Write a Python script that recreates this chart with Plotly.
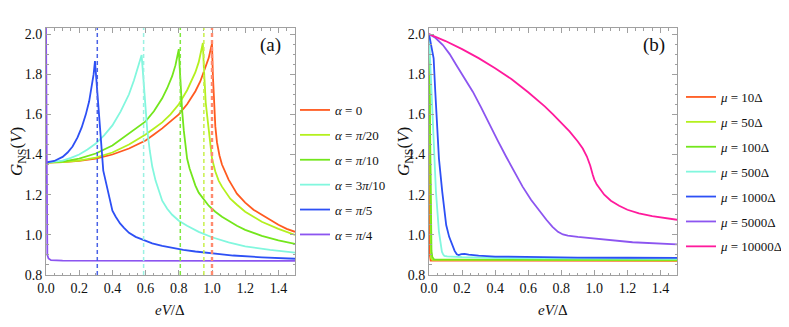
"""Two-panel conductance plot G_NS(V) vs eV/Delta."""

import plotly.graph_objects as go
from plotly.subplots import make_subplots

# ---- panel (a): different alpha ----
a_labels = ["<i>α</i> = 0", "<i>α</i> = <i>π</i>/20", "<i>α</i> = <i>π</i>/10",
            "<i>α</i> = 3<i>π</i>/10", "<i>α</i> = <i>π</i>/5", "<i>α</i> = <i>π</i>/4"]

a_x_0 = [0, 0.1, 0.2, 0.3, 0.4, 0.5, 0.55, 0.6, 0.65, 0.7, 0.75, 0.8, 0.85, 0.9, 0.93, 0.96, 0.98,
         0.995, 1.0, 1.005, 1.012, 1.02, 1.03, 1.045, 1.06, 1.08, 1.1, 1.125, 1.15, 1.2, 1.25, 1.3,
         1.35, 1.4, 1.45, 1.5]
a_y_0 = [1.36, 1.362, 1.368, 1.38, 1.40, 1.43, 1.45, 1.47, 1.50, 1.53, 1.565, 1.60, 1.65, 1.715, 1.765,
         1.83, 1.88, 1.935, 1.95, 1.80, 1.65, 1.54, 1.46, 1.395, 1.35, 1.31, 1.275, 1.24, 1.205, 1.16,
         1.125, 1.10, 1.075, 1.05, 1.03, 1.015]

a_x_1 = [0, 0.1, 0.2, 0.3, 0.4, 0.5, 0.55, 0.6, 0.65, 0.7, 0.75, 0.8, 0.85, 0.88, 0.9, 0.92, 0.935,
         0.945, 0.95, 0.955, 0.962, 0.97, 0.98, 0.99, 1.0, 1.02, 1.04, 1.06, 1.08, 1.11, 1.15, 1.2,
         1.25, 1.3, 1.4, 1.5]
a_y_1 = [1.36, 1.362, 1.37, 1.385, 1.41, 1.45, 1.475, 1.50, 1.53, 1.56, 1.60, 1.65, 1.72, 1.77, 1.81,
         1.86, 1.91, 1.955, 1.85, 1.75, 1.66, 1.60, 1.52, 1.44, 1.38, 1.315, 1.27, 1.24, 1.215, 1.18,
         1.15, 1.115, 1.09, 1.065, 1.03, 1.0]

a_x_2 = [0, 0.1, 0.2, 0.3, 0.4, 0.5, 0.55, 0.6, 0.65, 0.7, 0.73, 0.76, 0.78, 0.795, 0.80, 0.805,
         0.812, 0.82, 0.83, 0.84, 0.85, 0.865, 0.88, 0.9, 0.92, 0.95, 0.98, 1.02, 1.06, 1.1, 1.15,
         1.2, 1.3, 1.4, 1.5]
a_y_2 = [1.36, 1.365, 1.38, 1.405, 1.445, 1.505, 1.535, 1.565, 1.615, 1.68, 1.73, 1.79, 1.845, 1.90,
         1.925, 1.84, 1.73, 1.62, 1.52, 1.44, 1.38, 1.33, 1.29, 1.245, 1.21, 1.175, 1.145, 1.115, 1.09,
         1.07, 1.045, 1.025, 0.995, 0.972, 0.955]

a_x_3 = [0, 0.1, 0.15, 0.2, 0.25, 0.3, 0.35, 0.4, 0.45, 0.5, 0.53, 0.555, 0.57, 0.576, 0.582, 0.59,
         0.6, 0.61, 0.625, 0.64, 0.66, 0.68, 0.7, 0.73, 0.76, 0.8, 0.85, 0.92, 1.0, 1.1, 1.2, 1.35, 1.5]
a_y_3 = [1.36, 1.37, 1.383, 1.40, 1.425, 1.455, 1.495, 1.545, 1.615, 1.70, 1.77, 1.845, 1.88, 1.895,
         1.83, 1.73, 1.62, 1.52, 1.42, 1.34, 1.27, 1.215, 1.17, 1.13, 1.10, 1.07, 1.045, 1.015, 0.988,
         0.963, 0.943, 0.925, 0.911]

a_x_4 = [0, 0.05, 0.1, 0.13, 0.16, 0.19, 0.215, 0.24, 0.26, 0.275, 0.287, 0.295, 0.31, 0.325, 0.345,
         0.356, 0.366, 0.376, 0.386, 0.40, 0.42, 0.446, 0.47, 0.5, 0.54, 0.586, 0.64, 0.7, 0.76,
         0.827, 0.9, 1.0, 1.128, 1.3, 1.5]
a_y_4 = [1.36, 1.368, 1.388, 1.41, 1.44, 1.485, 1.535, 1.60, 1.665, 1.73, 1.80, 1.865, 1.70, 1.52, 1.32,
         1.28, 1.24, 1.20, 1.158, 1.12, 1.09, 1.057, 1.035, 1.01, 0.99, 0.974, 0.958, 0.945, 0.934,
         0.925, 0.917, 0.907, 0.897, 0.888, 0.881]

a_x_5 = [0, 0.002, 0.004, 0.008, 0.015, 0.03, 0.1, 1.5]
a_y_5 = [2.05, 1.6, 1.1, 0.90, 0.882, 0.874, 0.872, 0.870]

a_gap_x = [1.0, 0.951, 0.809, 0.588, 0.309]

# ---- panel (b): different mu ----
b_labels = ["<i>μ</i> = 10Δ", "<i>μ</i> = 50Δ", "<i>μ</i> = 100Δ", "<i>μ</i> = 500Δ",
            "<i>μ</i> = 1000Δ", "<i>μ</i> = 5000Δ", "<i>μ</i> = 10000Δ"]

b_x_0 = [0, 0.002, 0.005, 0.01, 1.5]
b_y_0 = [2.0, 1.4, 0.9, 0.872, 0.870]

b_x_1 = [0, 0.004, 0.008, 0.012, 0.02, 1.5]
b_y_1 = [2.0, 1.5, 1.0, 0.885, 0.876, 0.873]

b_x_2 = [0, 0.005, 0.01, 0.015, 0.02, 0.03, 1.5]
b_y_2 = [2.0, 1.6, 1.15, 0.92, 0.89, 0.878, 0.875]

b_x_3 = [0, 0.01, 0.024, 0.042, 0.06, 0.07, 0.078, 0.086, 0.093, 0.11, 0.2, 0.4, 0.8, 1.5]
b_y_3 = [2.0, 1.8, 1.547, 1.215, 1.016, 0.95, 0.916, 0.902, 0.895, 0.893, 0.889, 0.885, 0.882, 0.880]

b_x_4 = [0, 0.01, 0.028, 0.038, 0.05, 0.06, 0.08, 0.104, 0.122, 0.14, 0.155, 0.168, 0.18, 0.195,
         0.215, 0.24, 0.3, 0.4, 0.6, 0.9, 1.2, 1.5]
b_y_4 = [2.0, 1.96, 1.879, 1.713, 1.54, 1.381, 1.215, 1.049, 0.99, 0.949, 0.92, 0.903, 0.899, 0.904,
         0.905, 0.901, 0.896, 0.892, 0.889, 0.887, 0.886, 0.885]

b_x_5 = [0, 0.04, 0.084, 0.125, 0.165, 0.215, 0.265, 0.315, 0.365, 0.415, 0.466, 0.516, 0.566, 0.617,
         0.667, 0.71, 0.747, 0.78, 0.81, 0.84, 0.9, 1.03, 1.231, 1.5]
b_y_5 = [2.0, 1.98, 1.945, 1.90, 1.846, 1.78, 1.713, 1.635, 1.55, 1.47, 1.39, 1.315, 1.24, 1.175,
         1.12, 1.075, 1.04, 1.015, 1.002, 0.996, 0.99, 0.978, 0.963, 0.953]

b_x_6 = [0, 0.1, 0.2, 0.3, 0.4, 0.5, 0.6, 0.7, 0.75, 0.8, 0.85, 0.9, 0.93, 0.955, 0.975, 0.99, 1.0,
         1.015, 1.035, 1.06, 1.1, 1.15, 1.2, 1.27, 1.35, 1.42, 1.5]
b_y_6 = [2.0, 1.965, 1.925, 1.88, 1.83, 1.775, 1.71, 1.64, 1.60, 1.56, 1.515, 1.465, 1.43, 1.39, 1.345,
         1.30, 1.275, 1.25, 1.225, 1.20, 1.17, 1.145, 1.125, 1.107, 1.093, 1.083, 1.075]

x_ticks = [0.0, 0.2, 0.4, 0.6, 0.8, 1.0, 1.2, 1.4]
y_ticks = [0.8, 1.0, 1.2, 1.4, 1.6, 1.8, 2.0]

colors = ["#ff5a1f", "#b4f01e", "#73e61c", "#82f7de", "#2d50f5", "#8c55f0", "#ff1a9c"]
gap_colors = ["#ff8a6e", "#c8f04c", "#80e840", "#9af2e2", "#4a62e6"]
gap_widths = [2.4, 1.5, 1.5, 1.5, 1.5]

FONT = "Liberation Serif"
FRAME = "#a0a0a0"
TEXT = "#111111"
W, H = 789, 327
OFF = 8  # the page body adds an 8px margin


def px(x):
    return (x - OFF) / W


def py(y):
    return 1 - (y - OFF) / H


fig = make_subplots(rows=1, cols=2)

a_series = [(a_x_0, a_y_0), (a_x_1, a_y_1), (a_x_2, a_y_2),
            (a_x_3, a_y_3), (a_x_4, a_y_4), (a_x_5, a_y_5)]
for i, (xs, ys) in enumerate(a_series):
    fig.add_trace(
        go.Scatter(x=xs, y=ys, mode="lines", name=a_labels[i], legend="legend",
                   legendgroup=f"a{i}", line=dict(color=colors[i], width=1.8)),
        row=1, col=1,
    )

for i, xv in enumerate(a_gap_x):
    fig.add_vline(x=xv, row=1, col=1, line=dict(color=gap_colors[i], width=gap_widths[i],
                                                  dash="4px,3px"))

b_series = [(b_x_0, b_y_0), (b_x_1, b_y_1), (b_x_2, b_y_2), (b_x_3, b_y_3),
            (b_x_4, b_y_4), (b_x_5, b_y_5), (b_x_6, b_y_6)]
for i, (xs, ys) in enumerate(b_series):
    fig.add_trace(
        go.Scatter(x=xs, y=ys, mode="lines", name=b_labels[i], legend="legend2",
                   legendgroup=f"b{i}", line=dict(color=colors[i], width=1.8)),
        row=1, col=2,
    )

axis_style = dict(
    showline=True, linecolor=FRAME, linewidth=1, mirror="allticks", automargin=False,
    ticks="inside", ticklen=5, tickcolor=FRAME, showgrid=False, zeroline=False,
    tickfont=dict(family=FONT, size=14, color=TEXT),
    minor=dict(ticks="inside", ticklen=2.5, tickcolor=FRAME, dtick=0.05),
)

for col, (left, right) in [(1, (46, 295)), (2, (429, 677))]:
    fig.update_xaxes(range=[0, 1.5], tickvals=x_ticks, ticktext=[f"{v:.1f}" for v in x_ticks],
                     domain=[px(left), px(right)], **axis_style, row=1, col=col)
    fig.update_yaxes(range=[0.8, 2.03], tickvals=y_ticks, ticktext=[f"{v:.1f}" for v in y_ticks],
                     domain=[py(275), py(28)], **axis_style, row=1, col=col)

ytitle = "<i>G</i><sub>NS</sub>(<i>V</i>)"
xtitle = "<i>eV</i>/Δ"
label_font = dict(family=FONT, size=19, color=TEXT)
annotations = [
    dict(text="(a)", x=1.35, y=1.945, xref="x", yref="y", showarrow=False, font=label_font),
    dict(text="(b)", x=1.36, y=1.945, xref="x2", yref="y2", showarrow=False, font=label_font),
]
for xp in (18, 405):
    annotations.append(dict(text=ytitle, x=px(xp), y=py(152), xref="paper", yref="paper",
                            xanchor="center", yanchor="middle", showarrow=False, textangle=-90,
                            font=dict(family=FONT, size=17, color=TEXT)))
for xp in (170, 553):
    annotations.append(dict(text=xtitle, x=px(xp), y=py(310), xref="paper", yref="paper",
                            xanchor="center", yanchor="middle", showarrow=False,
                            font=dict(family=FONT, size=15, color=TEXT)))

legend_style = dict(
    font=dict(family=FONT, size=13, color=TEXT), bgcolor="rgba(0,0,0,0)",
    traceorder="grouped", tracegroupgap=5, xanchor="left", yanchor="top",
)

fig.update_layout(
    width=W, height=H,
    margin=dict(l=0, r=0, t=0, b=0, autoexpand=False),
    paper_bgcolor="white", plot_bgcolor="white",
    annotations=annotations,
    legend=dict(x=px(295), y=py(95), **legend_style),
    legend2=dict(x=px(681), y=py(82), **legend_style),
)

fig.write_html("out.html")
